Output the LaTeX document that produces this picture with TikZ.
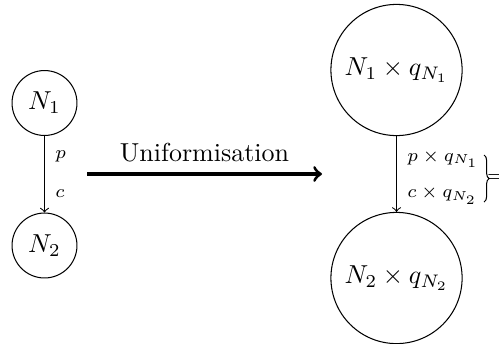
\documentclass[tikz,border=0pt]{standalone}
\usetikzlibrary{decorations.pathreplacing}
\begin{document}
\begin{tikzpicture}[x=0.385pt,y=-0.385pt,
  smallstate/.style={circle,draw,inner sep=0pt,minimum size=25pt},
  bigstate/.style={circle,draw,inner sep=0pt,minimum size=50.5pt},
  rate/.style={right,font=\scriptsize,inner xsep=4pt,inner ysep=2pt},
  flow/.style={->},
  bigflow/.style={->,line width=1.2pt}]
\useasboundingbox (0,0) rectangle (499,343);
\node[smallstate] (a1) at (44.5,103) {$N_1$};
\node[smallstate] (a2) at (44.5,245.5) {$N_2$};
\draw[flow] (a1) -- node[rate,pos=.27] {$p$} node[rate,pos=.75] {$c$} (a2);
\node[bigstate] (b1) at (396.5,70) {$N_1\times q_{N_1}$};
\node[bigstate] (b2) at (396.5,278) {$N_2\times q_{N_2}$};
\draw[flow] (b1) -- node[rate,pos=.30] (l1) {$p\times q_{N_1}$} node[rate,pos=.78] (l2) {$c\times q_{N_2}$} (b2);
\coordinate (s) at (87,174);
\coordinate (t) at (322,174);
\draw[bigflow] (s) -- node[above,inner sep=4pt] (u) {Uniformisation} (t);
\coordinate (bt) at (484,155);
\coordinate (bb) at (484,202);
\draw[decorate,decoration={brace,amplitude=2pt}] (bt) -- node[right,inner sep=1pt,font=\scriptsize] (eq) {$=$} (bb);
\end{tikzpicture}
\end{document}
